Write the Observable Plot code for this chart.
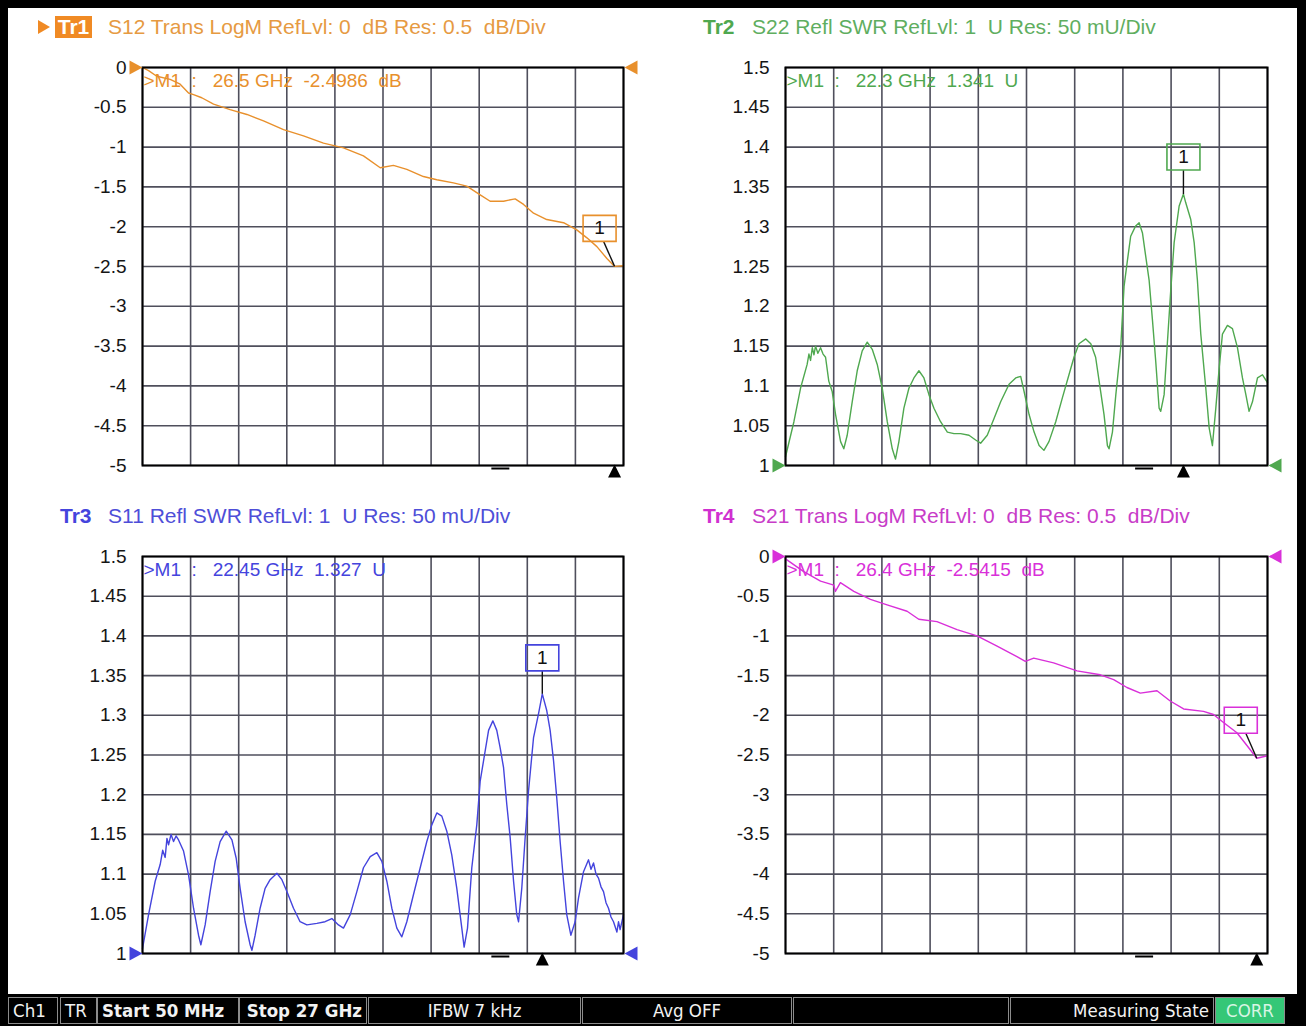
<!DOCTYPE html>
<html><head><meta charset="utf-8">
<script src="https://cdn.jsdelivr.net/npm/d3@7"></script>
<script src="https://cdn.jsdelivr.net/npm/@observablehq/plot@0.6"></script>
<style>
body{margin:0;background:#fff;}
#page{position:relative;width:1306px;height:1026px;overflow:hidden;background:#fff;font-family:"Liberation Sans",Arial,sans-serif;}
.band{position:absolute;background:#000;}
.title{position:absolute;font-size:21px;white-space:pre;line-height:22px;}
.title b{font-weight:bold;}
.panel{position:absolute;}
.panel svg{overflow:visible;}
.panel svg text{white-space:pre;}
#status{position:absolute;left:0;top:994px;width:1306px;height:32px;background:#000;}
.cell{position:absolute;top:3px;height:27px;border:1px solid #8c8c8c;box-sizing:border-box;color:#f2f2f2;font-family:"DejaVu Sans Condensed","DejaVu Sans",sans-serif;font-stretch:condensed;font-size:18.5px;line-height:25px;white-space:pre;overflow:hidden;padding:0 4px;}
.tri{position:absolute;width:0;height:0;border-top:7px solid transparent;border-bottom:7px solid transparent;border-left:12px solid #F08A24;}
</style></head>
<body>
<div id="page">
  <div class="band" style="left:0;top:0;width:1306px;height:8px"></div>
  <div class="band" style="left:0;top:0;width:8px;height:1026px"></div>
  <div class="band" style="left:1297px;top:0;width:9px;height:1026px"></div>

  <div class="tri" style="left:38px;top:20px"></div>
  <div class="title" style="left:55px;top:16px;width:37px;height:22px;background:#F08A24;color:#fff;text-align:center"><b>Tr1</b></div>
  <div class="title" style="left:108px;top:16px;color:#E69A42">S12 Trans LogM RefLvl: 0  dB Res: 0.5  dB/Div</div>

  <div class="title" style="left:703px;top:16px;color:#4FA84F"><b>Tr2</b></div>
  <div class="title" style="left:752px;top:16px;color:#5FAE5F">S22 Refl SWR RefLvl: 1  U Res: 50 mU/Div</div>

  <div class="title" style="left:60px;top:505px;color:#4444DD"><b>Tr3</b></div>
  <div class="title" style="left:108px;top:505px;color:#4E4ED8">S11 Refl SWR RefLvl: 1  U Res: 50 mU/Div</div>

  <div class="title" style="left:703px;top:505px;color:#D030D0"><b>Tr4</b></div>
  <div class="title" style="left:752px;top:505px;color:#C83CC8">S21 Trans LogM RefLvl: 0  dB Res: 0.5  dB/Div</div>

  <div id="p1" class="panel" style="left:0;top:40px"></div>
  <div id="p2" class="panel" style="left:650px;top:40px"></div>
  <div id="p3" class="panel" style="left:0;top:529px"></div>
  <div id="p4" class="panel" style="left:650px;top:529px"></div>

  <div id="status">
    <div class="cell" style="left:8px;width:50px">Ch1</div>
    <div class="cell" style="left:60px;width:37px">TR</div>
    <div class="cell" style="left:97px;width:142px;font-weight:bold">Start 50 MHz</div>
    <div class="cell" style="left:239px;width:128px;font-weight:bold;text-align:right">Stop 27 GHz</div>
    <div class="cell" style="left:368px;width:213px;text-align:center">IFBW 7 kHz</div>
    <div class="cell" style="left:582px;width:210px;text-align:center">Avg OFF</div>
    <div class="cell" style="left:793px;width:216px"></div>
    <div class="cell" style="left:1010px;width:204px;text-align:right">Measuring State</div>
    <div class="cell" style="left:1215px;width:70px;background:#35C777;color:#d8f5e4;text-align:center">CORR</div>
  </div>
</div>
<script>
// ---- frequency sweep (GHz)
const sweep = [0.05, 27];
const dashFreq = 20.1;

// ---- axis ticks / labels
const logmTicks = [0, -0.5, -1, -1.5, -2, -2.5, -3, -3.5, -4, -4.5, -5];
const logmLabels = ["0", "-0.5", "-1", "-1.5", "-2", "-2.5", "-3", "-3.5", "-4", "-4.5", "-5"];
const swrTicks = [1.5, 1.45, 1.4, 1.35, 1.3, 1.25, 1.2, 1.15, 1.1, 1.05, 1];
const swrLabels = ["1.5", "1.45", "1.4", "1.35", "1.3", "1.25", "1.2", "1.15", "1.1", "1.05", "1"];

// ---- Tr1 S12 (dB)
const tr1F = [0.05,0.39,0.85,1.60,2.16,2.63,2.91,3.37,4.03,4.96,5.90,6.83,7.95,9.07,10.19,11.31,12.43,13.37,14.11,14.86,15.79,16.54,17.47,18.22,18.97,19.53,20.28,20.93,21.40,21.96,22.70,23.64,24.38,24.95,25.51,26.07,26.50,27.00];
const tr1V = [0,-0.04,-0.11,-0.15,-0.21,-0.32,-0.34,-0.38,-0.46,-0.53,-0.59,-0.67,-0.78,-0.86,-0.95,-1.01,-1.11,-1.26,-1.23,-1.28,-1.37,-1.41,-1.45,-1.49,-1.60,-1.68,-1.68,-1.65,-1.72,-1.83,-1.91,-1.95,-2.04,-2.14,-2.25,-2.40,-2.4986,-2.49];

// ---- Tr2 S22 (SWR)
const tr2F = [0.05,0.52,0.89,1.26,1.36,1.45,1.55,1.64,1.73,1.86,2.01,2.15,2.29,2.47,2.66,2.85,3.13,3.31,3.50,3.78,4.06,4.34,4.62,4.90,5.18,5.46,5.74,6.02,6.20,6.39,6.67,6.95,7.23,7.51,7.79,8.07,8.35,8.72,9.10,9.47,9.84,10.31,10.68,10.96,11.33,11.71,12.08,12.55,12.92,13.20,13.39,13.67,13.95,14.23,14.50,14.78,15.16,15.53,15.90,16.18,16.46,16.84,17.12,17.39,17.67,17.86,18.05,18.14,18.33,18.52,18.79,18.98,19.17,19.35,19.63,19.82,20.01,20.19,20.38,20.57,20.75,20.94,21.03,21.22,21.41,21.59,21.78,22.06,22.30,22.43,22.71,22.90,23.08,23.27,23.55,23.74,23.92,24.11,24.30,24.48,24.76,25.04,25.32,25.60,25.79,25.97,26.16,26.44,26.72,27.00];
const tr2V = [1.011,1.055,1.097,1.127,1.140,1.132,1.148,1.139,1.150,1.141,1.148,1.140,1.136,1.106,1.093,1.064,1.030,1.021,1.038,1.080,1.119,1.144,1.155,1.146,1.127,1.097,1.055,1.021,1.008,1.030,1.072,1.097,1.110,1.119,1.110,1.089,1.072,1.055,1.042,1.040,1.040,1.038,1.032,1.028,1.038,1.059,1.080,1.102,1.110,1.112,1.093,1.064,1.042,1.025,1.019,1.030,1.055,1.085,1.114,1.136,1.153,1.159,1.153,1.136,1.093,1.064,1.025,1.021,1.042,1.089,1.148,1.225,1.258,1.288,1.301,1.305,1.292,1.263,1.233,1.182,1.131,1.072,1.068,1.089,1.157,1.220,1.280,1.326,1.341,1.330,1.309,1.280,1.233,1.165,1.097,1.047,1.025,1.072,1.123,1.165,1.176,1.172,1.148,1.110,1.089,1.068,1.080,1.110,1.114,1.104];

// ---- Tr3 S11 (SWR)
const tr3F = [0.05,0.39,0.76,1.04,1.18,1.32,1.42,1.51,1.65,1.79,1.93,2.07,2.35,2.63,2.91,3.19,3.32,3.56,3.84,4.12,4.40,4.74,5.06,5.30,5.52,5.80,6.08,6.18,6.36,6.64,6.92,7.20,7.58,7.86,8.14,8.51,8.88,9.26,9.82,10.28,10.66,11.03,11.31,11.69,12.06,12.43,12.81,13.18,13.46,13.74,14.02,14.30,14.58,14.86,15.23,15.61,15.98,16.26,16.54,16.82,17.10,17.38,17.66,17.94,18.07,18.26,18.50,18.78,18.97,19.19,19.44,19.68,19.90,20.09,20.28,20.46,20.65,20.84,21.02,21.12,21.30,21.49,21.68,21.96,22.24,22.45,22.70,22.89,23.08,23.26,23.45,23.64,23.82,24.05,24.29,24.48,24.76,25.04,25.18,25.32,25.46,25.60,25.74,25.88,26.02,26.16,26.30,26.44,26.63,26.72,26.81,27.00];
const tr3V = [1.006,1.049,1.091,1.112,1.130,1.121,1.145,1.137,1.150,1.141,1.148,1.143,1.129,1.099,1.057,1.023,1.011,1.036,1.078,1.116,1.141,1.154,1.143,1.120,1.082,1.040,1.011,1.004,1.023,1.057,1.082,1.093,1.101,1.093,1.078,1.057,1.040,1.036,1.038,1.040,1.044,1.036,1.032,1.049,1.078,1.108,1.122,1.127,1.116,1.091,1.057,1.032,1.021,1.040,1.074,1.108,1.141,1.162,1.177,1.173,1.154,1.124,1.082,1.032,1.008,1.032,1.108,1.162,1.217,1.247,1.281,1.293,1.281,1.259,1.234,1.188,1.146,1.091,1.049,1.040,1.082,1.146,1.205,1.272,1.302,1.327,1.306,1.281,1.243,1.196,1.141,1.091,1.049,1.023,1.040,1.070,1.103,1.118,1.106,1.114,1.100,1.095,1.084,1.078,1.064,1.057,1.046,1.040,1.027,1.040,1.030,1.049];

// ---- Tr4 S21 (dB)
const tr4F = [0.05,1.07,2.01,2.75,2.84,3.12,3.87,4.80,5.73,6.85,7.50,8.52,9.64,10.76,11.88,12.99,13.46,13.93,15.04,16.35,17.65,18.40,19.14,19.89,20.82,21.56,22.31,23.42,23.98,24.54,25.29,25.85,26.40,27.00];
const tr4V = [-0.03,-0.19,-0.31,-0.36,-0.44,-0.33,-0.44,-0.54,-0.61,-0.69,-0.79,-0.82,-0.92,-1.00,-1.13,-1.26,-1.32,-1.28,-1.34,-1.44,-1.49,-1.55,-1.65,-1.72,-1.69,-1.82,-1.92,-1.95,-1.99,-2.09,-2.22,-2.38,-2.5415,-2.51];

// ---- markers
const markerF = [26.5, 22.3, 22.45, 26.4];
const markerV = [-2.4986, 1.341, 1.327, -2.5415];
const markerText = [">M1  :   26.5 GHz  -2.4986  dB", ">M1  :   22.3 GHz  1.341  U", ">M1  :   22.45 GHz  1.327  U", ">M1  :   26.4 GHz  -2.5415  dB"];
const refLevels = [0, 1, 1, 0];

const GRID = "#4f4f5c";
const xGrid = d3.range(11).map(i => sweep[0] + i * (sweep[1] - sweep[0]) / 10);

const triRight = {draw(c){c.moveTo(-6,-7);c.lineTo(7,0);c.lineTo(-6,7);c.closePath();}};
const triLeft = {draw(c){c.moveTo(6,-7);c.lineTo(-7,0);c.lineTo(6,7);c.closePath();}};
const triUp = {draw(c){c.moveTo(0,-7);c.lineTo(6.5,6);c.lineTo(-6.5,6);c.closePath();}};
const dashSym = {draw(c){c.moveTo(-9,0);c.lineTo(9,0);}};
const boxSym = {draw(c){c.rect(-16.5,-13,33,26);}};
const leadSym = (lx, ly) => ({draw(c){c.moveTo(0,0);c.lineTo(lx,ly);}});

function panel(el, o) {
  const data = o.f.map((f, i) => ({f, v: o.v[i]}));
  const lab = new Map(o.ticks.map((t, i) => [t, o.labels[i]]));
  const yDom = d3.extent(o.ticks);
  const mk = [{f: o.mf, v: o.mv}];
  const chart = Plot.plot({
    width: 650, height: 460,
    marginLeft: o.mL, marginRight: o.mR, marginTop: 27, marginBottom: o.mB,
    style: {fontFamily: "Liberation Sans, Arial, sans-serif", fontSize: "19px", color: "#151515", background: "transparent", overflow: "visible"},
    x: {domain: sweep, axis: null},
    y: {domain: yDom, ticks: o.ticks, tickSize: 0, tickPadding: 16, tickFormat: d => lab.get(d), label: null},
    marks: [
      Plot.ruleY(o.ticks, {stroke: GRID, strokeWidth: 1.6}),
      Plot.ruleX(xGrid, {stroke: GRID, strokeWidth: 1.6}),
      Plot.line(data, {x: "f", y: "v", stroke: o.color, strokeWidth: 1.4}),
      Plot.frame({stroke: "#000", strokeWidth: 2}),
      Plot.text([o.readout], {frameAnchor: "top-left", text: d => d, dx: 1, dy: 6, fill: o.color, fontSize: 19}),
      Plot.dot(mk, {x: "f", y: "v", symbol: leadSym(o.lead[0], o.lead[1]), stroke: "#111", fill: "none", strokeWidth: 1.4}),
      Plot.dot(mk, {x: "f", y: "v", symbol: boxSym, dx: o.box[0], dy: o.box[1], stroke: o.color, fill: "none", strokeWidth: 1.6}),
      Plot.text(mk, {x: "f", y: "v", text: () => "1", dx: o.box[0], dy: o.box[1], fill: "#111", fontSize: 19}),
      Plot.dot([o.ref], {x: () => sweep[0], y: d => d, symbol: triRight, dx: -7, fill: o.color, stroke: "none"}),
      Plot.dot([o.ref], {x: () => sweep[1], y: d => d, symbol: triLeft, dx: 8, fill: o.color, stroke: "none"}),
      Plot.dot(mk, {x: "f", y: () => yDom[0], symbol: triUp, dy: 6, fill: "#000", stroke: "none"}),
      Plot.dot([dashFreq], {x: d => d, y: () => yDom[0], symbol: dashSym, dy: 3, stroke: "#000", fill: "none", strokeWidth: 2})
    ]
  });
  document.getElementById(el).appendChild(chart);
}

panel("p1", {f: tr1F, v: tr1V, ticks: logmTicks, labels: logmLabels, color: "#E8902C", mf: markerF[0], mv: markerV[0], readout: markerText[0], ref: refLevels[0], box: [-15, -38], lead: [-11, -25], mL: 142, mR: 27, mB: 35});
panel("p2", {f: tr2F, v: tr2V, ticks: swrTicks, labels: swrLabels, color: "#4FA84F", mf: markerF[1], mv: markerV[1], readout: markerText[1], ref: refLevels[1], box: [0, -37], lead: [0, -24], mL: 135, mR: 33, mB: 35});
panel("p3", {f: tr3F, v: tr3V, ticks: swrTicks, labels: swrLabels, color: "#4444DD", mf: markerF[2], mv: markerV[2], readout: markerText[2], ref: refLevels[2], box: [0, -36], lead: [0, -23], mL: 142, mR: 27, mB: 36});
panel("p4", {f: tr4F, v: tr4V, ticks: logmTicks, labels: logmLabels, color: "#D930D9", mf: markerF[3], mv: markerV[3], readout: markerText[3], ref: refLevels[3], box: [-16, -38], lead: [-11, -25], mL: 135, mR: 33, mB: 36});
</script>
</body></html>
